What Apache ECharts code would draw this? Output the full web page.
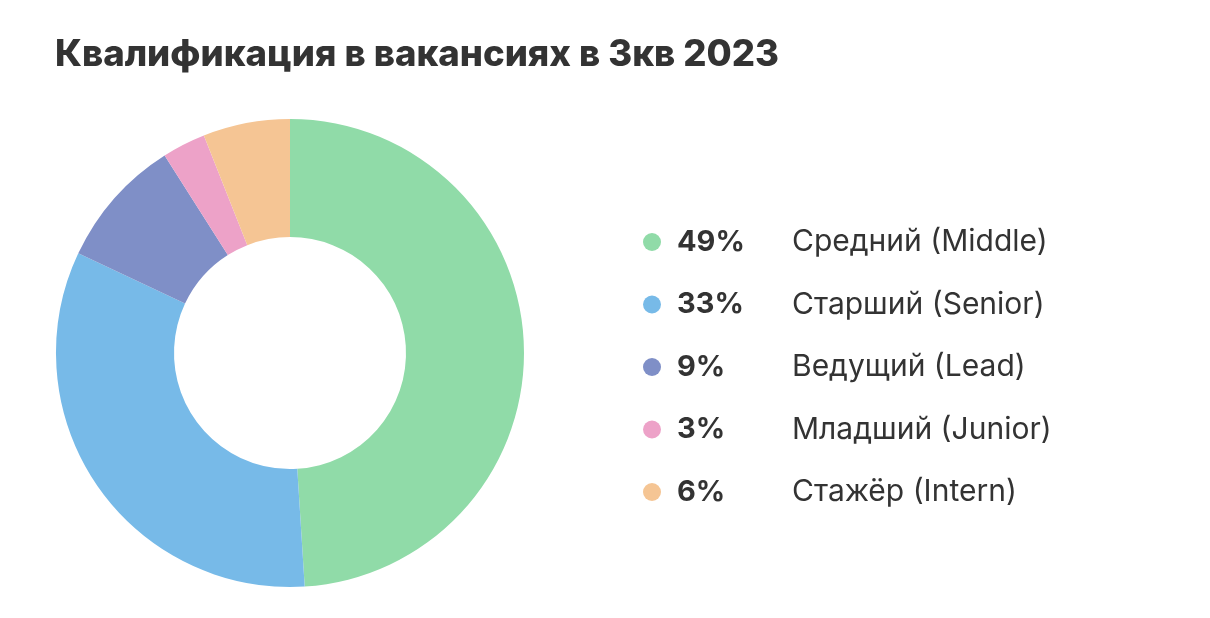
<!DOCTYPE html>
<html lang="ru">
<head>
  <meta charset="UTF-8">
  <title>Квалификация в вакансиях</title>
  <style>
    html, body { margin: 0; padding: 0; background: #fff; }
    #chart { width: 1210px; height: 618px; }
  </style>
</head>
<body>
  <div id="chart"></div>
  <script src="https://cdn.jsdelivr.net/npm/echarts@6/dist/echarts.min.js"></script>
  <script>
    // данные
    var levels = ['Средний (Middle)', 'Старший (Senior)', 'Ведущий (Lead)', 'Младший (Junior)', 'Стажёр (Intern)'];
    var shares = [49, 33, 9, 3, 6];
    var colors = ['#90dba8', '#77bae8', '#7f8fc7', '#eda2c8', '#f5c594'];

    var pieData = levels.map(function (name, i) {
      return { name: name, value: shares[i], itemStyle: { color: colors[i] } };
    });

    var chart = echarts.init(document.getElementById('chart'));
    chart.setOption({
      animation: false,
      title: {
        text: 'Квалификация в вакансиях в 3кв 2023',
        left: 50,
        top: 32,
        textStyle: {
          fontFamily: 'Inter',
          fontWeight: 800,
          fontSize: 36.5,
          color: '#333'
        }
      },
      legend: {
        orient: 'vertical',
        left: 638,
        top: 222,
        icon: 'circle',
        itemWidth: 18,
        itemHeight: 18,
        itemGap: 32.5,
        selectedMode: false,
        formatter: function (name) {
          var i = levels.indexOf(name);
          return '{p|' + shares[i] + '%}{n|' + name + '}';
        },
        textStyle: {
          rich: {
            p: {
              fontFamily: 'Inter',
              fontWeight: 'bold',
              fontSize: 29,
              color: '#333',
              width: 115,
              height: 30,
              lineHeight: 30,
              padding: [0, 0, 0, 11]
            },
            n: {
              fontFamily: 'Inter',
              fontSize: 30,
              color: '#333',
              height: 30,
              lineHeight: 30
            }
          }
        }
      },
      series: [{
        type: 'pie',
        center: [290, 353],
        radius: [116, 234],
        startAngle: 90,
        clockwise: true,
        silent: true,
        label: { show: false },
        labelLine: { show: false },
        itemStyle: { borderWidth: 0 },
        data: pieData
      }]
    });
  </script>
</body>
</html>
